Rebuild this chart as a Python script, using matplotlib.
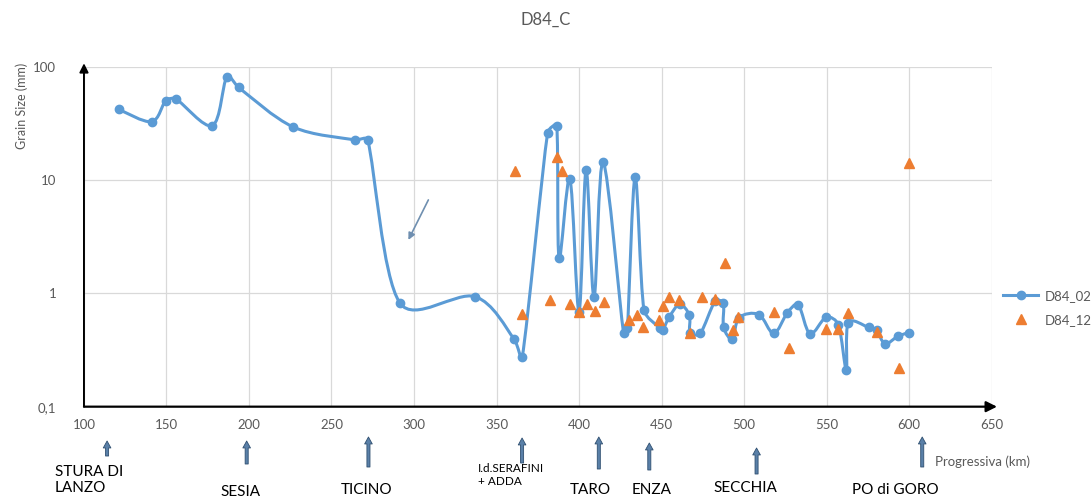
import numpy as np
import matplotlib
matplotlib.use('Agg')
import matplotlib.pyplot as plt
from matplotlib.path import Path
from matplotlib.patches import PathPatch
from matplotlib.lines import Line2D
from matplotlib.ticker import FixedLocator, FixedFormatter, NullLocator

plt.rcParams['font.family'] = ['Lato', 'DejaVu Sans']

# D84 grain size along the river (km, mm)
km_02 = [121, 141, 149.5, 155.8, 177.8, 186.5, 193.7, 226.9, 264.2, 271.9,
         291.5, 337, 360.6, 365.6, 381, 386.5, 387.9, 394.5, 400, 404.3,
         409.1, 414.7, 427, 429.3, 434, 439.4, 449.2, 450.7, 454.6, 461,
         466.9, 467.3, 473.5, 482.4, 487.5, 487.6, 493, 497, 509, 518,
         526.3, 532.9, 540, 549.7, 557.2, 562, 563.2, 575.5, 580.3, 585.5,
         593.5, 600]
d84_02 = [42, 32.7, 50, 51.7, 30.2, 80.7, 65.5, 29.3, 22.6, 22.6,
          0.82, 0.935, 0.396, 0.273, 26.2, 30, 2.05, 10.2, 0.69, 12.3,
          0.92, 14.3, 0.445, 0.49, 10.6, 0.713, 0.49, 0.47, 0.615, 0.8,
          0.64, 0.45, 0.443, 0.85, 0.82, 0.5, 0.394, 0.61, 0.65, 0.443,
          0.676, 0.79, 0.44, 0.615, 0.53, 0.21, 0.55, 0.5, 0.47, 0.36,
          0.42, 0.45]

km_12 = [361.2, 365.6, 382.4, 386.5, 389.5, 394.5, 400, 404.6, 409.7, 415.2,
         430.5, 435, 438.6, 448.7, 450.7, 454.7, 460.8, 467, 474.4, 482.4,
         488.3, 493.5, 496.6, 518.4, 527, 549.9, 557.2, 563.2, 580.6, 594,
         600]
d84_12 = [11.9, 0.66, 0.87, 16.1, 12.0, 0.81, 0.69, 0.81, 0.70, 0.84,
          0.58, 0.645, 0.5, 0.58, 0.77, 0.92, 0.88, 0.45, 0.92, 0.89,
          1.84, 0.475, 0.62, 0.69, 0.327, 0.48, 0.48, 0.676, 0.46, 0.218,
          14.0]

x_ticks = [100, 150, 200, 250, 300, 350, 400, 450, 500, 550, 600, 650]
y_ticks = [0.1, 1, 10, 100]
y_labels = ['0,1', '1', '10', '100']

# tributaries / sections marked under the axis
rivers = ['STURA DI\nLANZO', 'SESIA', 'TICINO', 'I.d.SERAFINI\n+ ADDA',
          'TARO', 'ENZA', 'SECCHIA', 'PO di GORO']
river_km = [114, 198.6, 272.4, 365.5, 412, 442.6, 507.6, 608]

BLUE = '#5B9BD5'
ORANGE = '#ED7D31'
GREY = '#595959'


def smooth_path(x, y, scale=(1.65, 113.3)):
    # cubic beziers through the points; tangent follows the neighbours,
    # handle capped by the segment length (pixel-like units)
    scale = np.array(scale)
    q = np.column_stack([np.asarray(x, float), np.log10(y)]) * scale
    n = len(q)
    t = np.zeros_like(q)
    t[0] = (q[1] - q[0]) / 2
    t[-1] = (q[-1] - q[-2]) / 2
    t[1:-1] = (q[2:] - q[:-2]) / 2
    tlen = np.linalg.norm(t, axis=1)
    unit = t / tlen[:, None]
    verts = [q[0]]
    codes = [Path.MOVETO]
    for i in range(n - 1):
        seg = np.linalg.norm(q[i + 1] - q[i])
        h0 = min(tlen[i], seg) / 3
        h1 = min(tlen[i + 1], seg) / 3
        verts += [q[i] + unit[i] * h0, q[i + 1] - unit[i + 1] * h1, q[i + 1]]
        codes += [Path.CURVE4] * 3
    verts = np.array(verts) / scale
    verts[:, 1] = 10 ** verts[:, 1]
    return Path(verts, codes)


fig = plt.figure(figsize=(10.92, 5.03), dpi=100)
ax = fig.add_axes([0.0769, 0.1915, 0.8311, 0.676])
ax.set_yscale('log')
ax.set_xlim(100, 650)
ax.set_ylim(0.1, 100)

ax.add_patch(PathPatch(smooth_path(km_02, d84_02), fill=False,
                       edgecolor=BLUE, lw=2.2, zorder=3))
ax.plot(km_02, d84_02, ls='none', marker='o', ms=6, color=BLUE, zorder=4)
ax.plot(km_12, d84_12, ls='none', marker='^', ms=7.5, color=ORANGE, zorder=5)

ax.xaxis.set_major_locator(FixedLocator(x_ticks))
ax.yaxis.set_major_locator(FixedLocator(y_ticks))
ax.yaxis.set_major_formatter(FixedFormatter(y_labels))
ax.yaxis.set_minor_locator(NullLocator())
ax.tick_params(length=0, labelsize=9.5, labelcolor=GREY)
ax.tick_params(axis='x', pad=9)
ax.tick_params(axis='y', pad=20)
ax.grid(True, color='#d9d9d9', lw=0.9)
ax.set_axisbelow(True)
for s in ax.spines.values():
    s.set_visible(False)

# axis lines with arrow heads
ax.annotate('', xy=(1.006, 0), xytext=(0, 0), xycoords='axes fraction',
            arrowprops=dict(arrowstyle='-|>', color='black', lw=1.6,
                            mutation_scale=16, shrinkA=0, shrinkB=0))
ax.annotate('', xy=(0, 1.01), xytext=(0, 0), xycoords='axes fraction',
            arrowprops=dict(arrowstyle='-|>', color='black', lw=1.4,
                            mutation_scale=13, shrinkA=0, shrinkB=0))

# small pointer inside the plot
ax.annotate('', xy=(296.6, 2.96), xytext=(308.7, 6.67),
            arrowprops=dict(arrowstyle='-|>', color='#6f8fb0', lw=1.2,
                            mutation_scale=10, shrinkA=0, shrinkB=0))

fig.text(0.5, 0.96, 'D84_C', ha='center', va='center', fontsize=12, color=GREY)
fig.text(0.02, 0.79, 'Grain Size (mm)', rotation=90, ha='center', va='center',
         fontsize=9, color=GREY)

handles = [Line2D([], [], color=BLUE, lw=2.2, marker='o', ms=6),
           Line2D([], [], ls='none', marker='^', ms=7.5, color=ORANGE)]
fig.legend(handles, ['D84_02', 'D84_12'], loc='center left',
           bbox_to_anchor=(0.908, 0.388), frameon=False, fontsize=9.5,
           labelcolor=GREY, handlelength=2.6, labelspacing=0.9,
           handletextpad=0.5)

# river arrows and names below the x axis
arrow_top = [62, 62, 66, 65, 66, 60, 55, 66]
arrow_bot = [47, 39, 36, 40, 34, 33, 29, 36]
for name, k, y0, y1 in zip(rivers, river_km, arrow_top, arrow_bot):
    ax.annotate('', xy=(k, y0), xytext=(k, y1),
                xycoords=('data', 'figure pixels'),
                arrowprops=dict(arrowstyle='simple,head_length=0.5,head_width=0.55,tail_width=0.22',
                                fc='#5a80a8', ec='#2f4f70', lw=0.6,
                                shrinkA=0, shrinkB=0))

label_pos = [(82.4, 23, 'left', 11), (195, 11, 'center', 11),
             (271, 13, 'center', 11), (338.8, 28, 'left', 8.5),
             (406.7, 13, 'center', 11), (444, 13, 'center', 11),
             (501, 15, 'center', 11), (591.5, 13, 'center', 11)]
for name, (k, yy, ha, fs) in zip(rivers, label_pos):
    ax.annotate(name, xy=(k, yy), xycoords=('data', 'figure pixels'),
                ha=ha, va='center', fontsize=fs, color='black',
                linespacing=1.25, annotation_clip=False)

ax.annotate('Progressiva (km)', xy=(615.8, 41), xycoords=('data', 'figure pixels'),
            ha='left', va='center', fontsize=9.5, color=GREY,
            annotation_clip=False)

fig.savefig('out.png', dpi=100)
